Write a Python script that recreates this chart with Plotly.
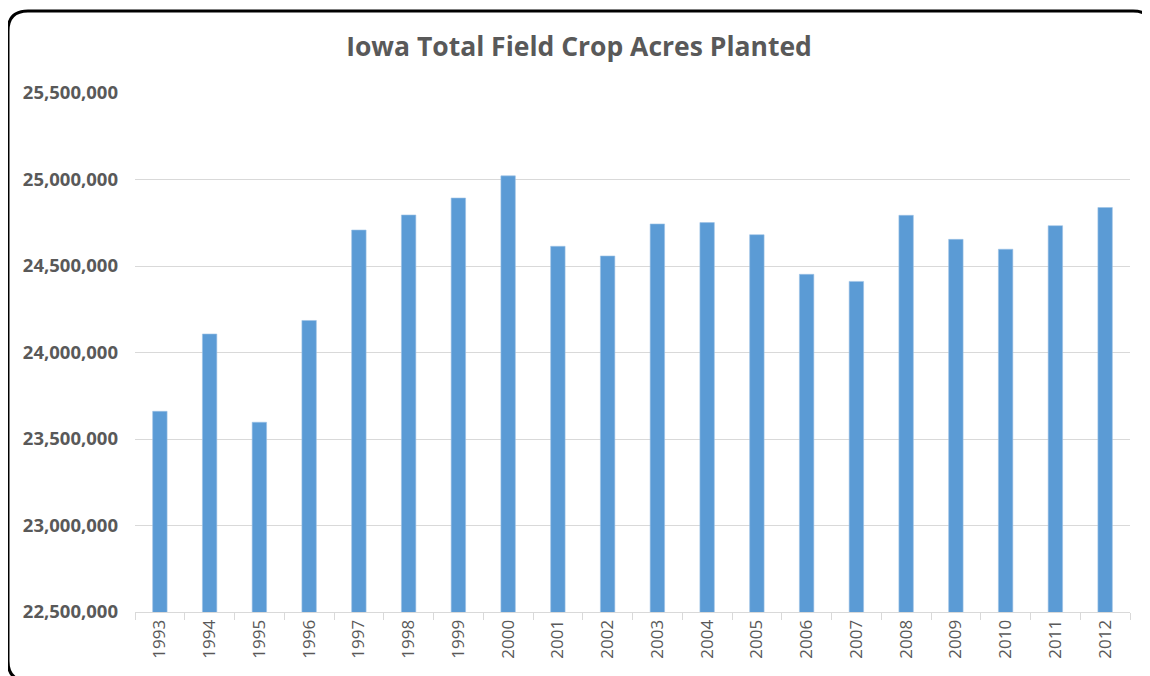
import plotly.graph_objects as go

years = [str(y) for y in range(1993, 2013)]
acres = [23660000, 24107000, 23597000, 24185000, 24708000, 24795000, 24893000,
         25021000, 24614000, 24558000, 24743000, 24751000, 24681000, 24452000,
         24411000, 24793000, 24654000, 24597000, 24733000, 24838000]

# page body has an 8px margin, so work in screen pixels and shift back
OFF = 8
W, H = 1150 - OFF, 676 - OFF
L, R, T, B = 135 - OFF, 1130 - OFF, 93 - OFF, 612 - OFF
grey = "#595959"
font = "Open Sans"


def px(x, y):
    # screen pixel -> paper coords
    x, y = x - OFF, y - OFF
    return (x - L) / (R - L), (B - y) / (B - T)


def rounded_box(x0, y0, x1, y1, r):
    pts = [
        ("M", [(x0 + r, y0)]), ("L", [(x1 - r, y0)]), ("Q", [(x1, y0), (x1, y0 + r)]),
        ("L", [(x1, y1 - r)]), ("Q", [(x1, y1), (x1 - r, y1)]),
        ("L", [(x0 + r, y1)]), ("Q", [(x0, y1), (x0, y1 - r)]),
        ("L", [(x0, y0 + r)]), ("Q", [(x0, y0), (x0 + r, y0)]),
    ]
    out = ""
    for cmd, ps in pts:
        out += cmd + " " + " ".join("%.5f,%.5f" % px(*p) for p in ps) + " "
    return out + "Z"


fig = go.Figure()
fig.add_trace(go.Bar(x=years, y=acres, marker_color="#5B9BD5",
                     marker_line=dict(color="#9dc3e6", width=0.6), width=0.29))

fig.update_layout(
    width=W, height=H,
    margin=dict(l=L, r=W - R, t=T, b=H - B),
    paper_bgcolor="white", plot_bgcolor="white",
    showlegend=False,
    title=dict(text="<b>Iowa Total Field Crop Acres Planted</b>", x=0.5, xref="container",
               xanchor="center", y=1 - (47 - OFF) / H, yanchor="middle",
               font=dict(family=font, size=26.5, color=grey)),
    font=dict(family=font, color=grey),
    shapes=[dict(type="path", xref="paper", yref="paper",
                 path=rounded_box(8, 11, 1153, 681, 20),
                 line=dict(color="black", width=3), layer="above")],
)
fig.update_xaxes(
    type="category", tickangle=-90, tickfont=dict(size=17, color=grey),
    showline=True, linecolor="#d9d9d9", linewidth=1,
    ticks="outside", tickson="boundaries", ticklen=7, tickcolor="#d9d9d9",
    showgrid=False,
)
fig.update_yaxes(
    range=[22500000, 25500000], dtick=500000, tickformat=",",
    tickfont=dict(size=18.5, color=grey, family=font, weight="bold"),
    showgrid=True, gridcolor="#d9d9d9", gridwidth=1,
    zeroline=False, showline=False, ticklabelstandoff=16,
)

fig.write_html("out.html")
